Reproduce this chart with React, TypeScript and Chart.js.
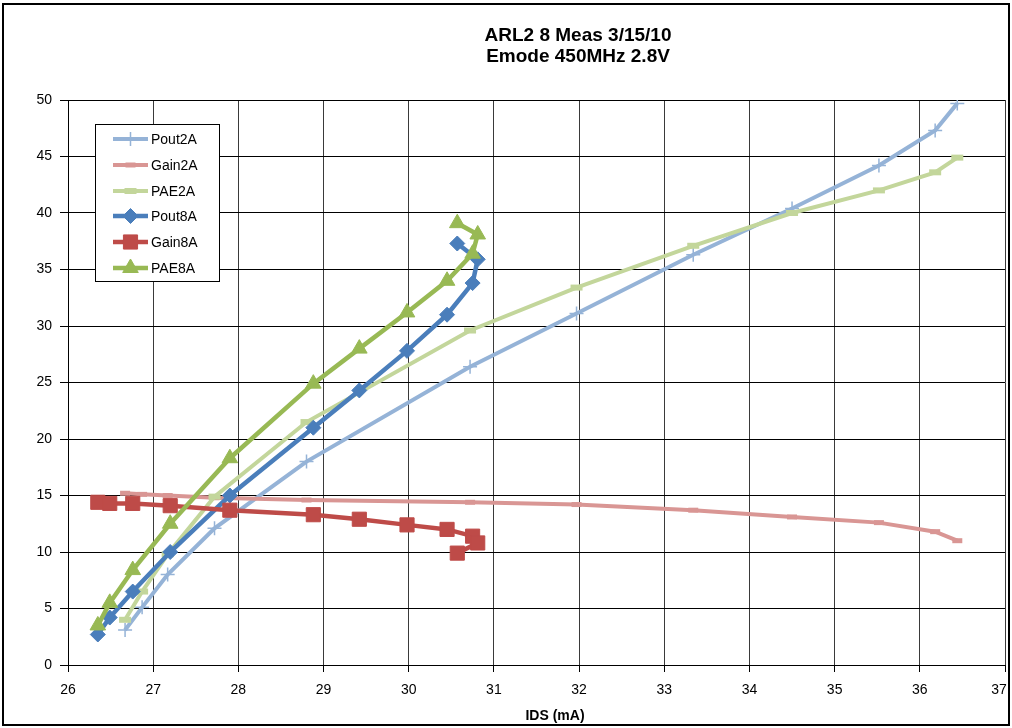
import { useEffect, useRef } from "react";
import { Chart, registerables } from "chart.js";
import { drawPoint } from "chart.js/helpers";

Chart.register(...registerables);

// Chart text
const titleLines = ["ARL2 8 Meas 3/15/10", "Emode 450MHz 2.8V"];
const xAxisTitle = "IDS (mA)";
const seriesNames = ["Pout2A", "Gain2A", "PAE2A", "Pout8A", "Gain8A", "PAE8A"];

// Drain current (mA) for each sweep
const ids2A = [26.67, 26.87, 27.17, 27.72, 28.8, 30.72, 31.97, 33.34, 34.5, 35.52, 36.18, 36.44];
const ids8A = [26.35, 26.49, 26.76, 27.2, 27.9, 28.88, 29.42, 29.98, 30.45, 30.75, 30.81, 30.57];

// 2A sweep
const pout2A = [3.1, 5.1, 8.0, 12.1, 18.0, 26.4, 31.1, 36.3, 40.4, 44.2, 47.3, 49.7];
const gain2A = [15.2, 15.1, 15.0, 14.8, 14.6, 14.4, 14.2, 13.7, 13.1, 12.6, 11.8, 11.0];
const pae2A = [4.0, 6.5, 9.8, 14.9, 21.5, 29.6, 33.4, 37.1, 40.0, 42.0, 43.6, 44.9];

// 8A sweep
const pout8A = [2.7, 4.2, 6.5, 10.0, 15.0, 21.0, 24.3, 27.8, 31.0, 33.8, 35.9, 37.3];
const gain8A = [14.4, 14.3, 14.3, 14.1, 13.7, 13.3, 12.9, 12.4, 12.0, 11.4, 10.8, 9.9];
const pae8A = [3.5, 5.5, 8.4, 12.5, 18.3, 24.9, 28.0, 31.2, 34.0, 36.4, 38.1, 39.1];

// Axis ranges
const xMin = 26;
const xMax = 37;
const yMin = 0;
const yMax = 50;

const FONT = '"Liberation Sans", Arial, Helvetica, sans-serif';

const toPoints = (xs: number[], ys: number[]) => xs.map((x, i) => ({ x, y: ys[i] }));

type Style = {
  color: string;
  width: number;
  pointStyle: any;
  radius: number;
  pointBorder: number;
};

const styles: Style[] = [
  { color: "#95B3D7", width: 4, pointStyle: "cross", radius: 7, pointBorder: 1.5 },
  { color: "#D99694", width: 4, pointStyle: "line", radius: 5, pointBorder: 5 },
  { color: "#C3D69B", width: 4, pointStyle: "line", radius: 6, pointBorder: 6 },
  { color: "#4A7EBB", width: 4.5, pointStyle: "rectRot", radius: 7.5, pointBorder: 1 },
  { color: "#BE4B48", width: 4.5, pointStyle: "rect", radius: 10, pointBorder: 1 },
  { color: "#98B954", width: 4.5, pointStyle: "triangle", radius: 9, pointBorder: 1 },
];

const seriesData = [
  toPoints(ids2A, pout2A),
  toPoints(ids2A, gain2A),
  toPoints(ids2A, pae2A),
  toPoints(ids8A, pout8A),
  toPoints(ids8A, gain8A),
  toPoints(ids8A, pae8A),
];

const framePlugin = {
  id: "frameAndText",
  beforeDraw(chart: any) {
    const ctx = chart.ctx;
    ctx.save();
    ctx.fillStyle = "#ffffff";
    ctx.fillRect(0, 0, chart.width, chart.height);
    ctx.restore();
  },
  afterDraw(chart: any) {
    const ctx = chart.ctx;
    ctx.save();

    // outer frame
    ctx.strokeStyle = "#000";
    ctx.lineWidth = 2;
    ctx.strokeRect(3, 4, 1006, 721);

    // title
    ctx.fillStyle = "#000";
    ctx.textAlign = "center";
    ctx.textBaseline = "middle";
    ctx.font = `bold 19px ${FONT}`;
    ctx.fillText(titleLines[0], 578, 36);
    ctx.fillText(titleLines[1], 578, 57);

    // x tick labels, kept inside the frame at the right end
    const xs = chart.scales.x;
    ctx.font = `14px ${FONT}`;
    xs.ticks.forEach((t: any) => {
      const px = Math.min(xs.getPixelForValue(t.value), 999);
      ctx.fillText(String(t.value), px, 690);
    });

    // x axis title
    ctx.font = `bold 14px ${FONT}`;
    ctx.fillText(xAxisTitle, 555, 716);

    // legend
    const bx = 95, by = 124, bw = 124, bh = 157;
    ctx.fillStyle = "#fff";
    ctx.fillRect(bx, by, bw, bh);
    ctx.strokeStyle = "#000";
    ctx.lineWidth = 1;
    ctx.strokeRect(bx + 0.5, by + 0.5, bw, bh);

    const rowY = [139, 165, 191, 216, 242, 268];
    chart.data.datasets.forEach((ds: any, i: number) => {
      const y = rowY[i];
      ctx.strokeStyle = ds.borderColor;
      ctx.lineWidth = ds.borderWidth;
      ctx.beginPath();
      ctx.moveTo(113, y);
      ctx.lineTo(148, y);
      ctx.stroke();
      ctx.fillStyle = ds.pointBackgroundColor;
      ctx.strokeStyle = ds.pointBorderColor;
      ctx.lineWidth = ds.pointBorderWidth;
      drawPoint(
        ctx,
        {
          pointStyle: ds.pointStyle,
          rotation: 0,
          radius: ds.pointRadius,
          borderWidth: ds.pointBorderWidth,
        } as any,
        130.5,
        y
      );
      ctx.fillStyle = "#000";
      ctx.textAlign = "left";
      ctx.textBaseline = "middle";
      ctx.font = `14px ${FONT}`;
      ctx.fillText(ds.label, 151, y + 1);
    });

    ctx.restore();
  },
};

export default function App() {
  const canvasRef = useRef<HTMLCanvasElement | null>(null);

  useEffect(() => {
    document.body.style.margin = "0";
    const canvas = canvasRef.current;
    if (!canvas) return;

    const datasets = seriesNames.map((name, i) => {
      const s = styles[i];
      return {
        label: name,
        data: seriesData[i],
        borderColor: s.color,
        backgroundColor: s.color,
        borderWidth: s.width,
        pointStyle: s.pointStyle,
        pointRadius: s.radius,
        pointBackgroundColor: s.color,
        pointBorderColor: s.color,
        pointBorderWidth: s.pointBorder,
        pointHoverRadius: s.radius,
        tension: 0,
        fill: false,
        order: seriesNames.length - i,
      };
    });

    const tickFont = { family: FONT, size: 14 };

    const chart = new Chart(canvas, {
      type: "line",
      data: { datasets } as any,
      options: {
        animation: false,
        responsive: false,
        events: [],
        layout: { autoPadding: false, padding: { left: 0, right: 7, top: 100, bottom: 0 } },
        plugins: {
          legend: { display: false },
          title: { display: false },
          tooltip: { enabled: false },
        },
        scales: {
          x: {
            type: "linear",
            min: xMin,
            max: xMax,
            ticks: { stepSize: 1, display: false },
            grid: { color: "#3a3a3a", lineWidth: 1, tickLength: 7, tickColor: "#000" },
            border: { color: "#000", width: 1 },
            afterFit: (s: any) => {
              s.height = 63;
            },
          },
          y: {
            type: "linear",
            min: yMin,
            max: yMax,
            ticks: { stepSize: 5, color: "#000", font: tickFont, padding: 8 },
            grid: { color: "#000", lineWidth: 1, tickLength: 8, tickColor: "#000" },
            border: { color: "#000", width: 1 },
            afterFit: (s: any) => {
              s.width = 68;
            },
          },
        },
      } as any,
      plugins: [framePlugin],
    });

    return () => chart.destroy();
  }, []);

  return (
    <div style={{ width: 1012, height: 728 }}>
      <canvas ref={canvasRef} width={1012} height={728} />
    </div>
  );
}
